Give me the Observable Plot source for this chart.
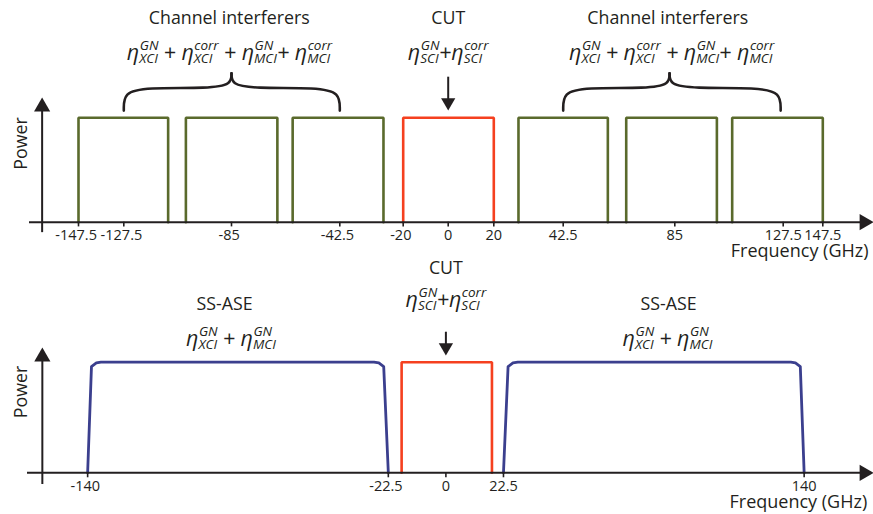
<!DOCTYPE html>
<html><head><meta charset="utf-8">
<script src="https://cdn.jsdelivr.net/npm/d3@7"></script>
<script src="https://cdn.jsdelivr.net/npm/@observablehq/plot@0.6"></script>
<style>
body{margin:0;background:#fff;}
#chart{width:873px;}
#chart svg{display:block;}
#chart text{white-space:pre;}
</style></head><body><div id="chart"></div>
<script>
// ---------- data ----------
const ink = "#231f20", green = "#5a6a2c", red = "#f5401f", blue = "#3b3f8e";
const fam = "'Open Sans', sans-serif";

// top panel: channel grid (GHz)
const topTicks = [-147.5, -127.5, -85, -42.5, -20, 0, 20, 42.5, 85, 127.5, 147.5];
const channelKind = ["interferer", "interferer", "interferer", "CUT", "interferer", "interferer", "interferer"];
const channelLow  = [-147.5, -103, -61, -20, 28, 66.5, 107.5];
const channelHigh = [-110, -67, -27, 20, 59.5, 101.5, 147.5];
const channelPower = [1, 1, 1, 1, 1, 1, 1];

// bottom panel: SS-ASE + CUT (GHz)
const bottomTicks = [-140, -22.5, 0, 22.5, 140];
const aseLeftFreq  = [-140, -138.5, -136.6, -134.8, -28.1, -26.2, -24.3, -22.5];
const aseRightFreq = [22.5, 24.3, 26.2, 28.1, 134.8, 136.6, 138.5, 140];
const asePower     = [0, 0.96, 0.993, 1, 1, 0.993, 0.96, 0];
const cutBottomLow = -17.3, cutBottomHigh = 18, cutBottomPower = 1;

// braces over the interferers [start, cusp, end] (GHz)
const braceSpans = [[-127.5, -85, -42.5], [42.5, 83, 126.5]];
const braceFrac  = [0, 0, 0.2, 0.8, 1, 1];
const braceLevel = [1.069, 1.242, 1.29, 1.281, 1.319, 1.427];

// formulas
const interfererTerms = [["GN", "XCI"], ["corr", "XCI"], ["GN", "MCI"], ["corr", "MCI"]];
const interfererJoins = [" + ", " + ", "+ "];
const cutTerms = [["GN", "SCI"], ["corr", "SCI"]];
const cutJoins = ["+"];
const aseTerms = [["GN", "XCI"], ["GN", "MCI"]];
const aseJoins = [" + "];
const formula = (terms, joins) => terms.map(([p, b], i) => `η[${p},${b}]` + (joins[i] || "")).join("");

const topLabels = [
  {text: "Channel interferers", x: -85.9, y: 1.894},
  {text: "CUT", x: 0, y: 1.894},
  {text: "Channel interferers", x: 82.3, y: 1.894}
];
const topFormulas = [
  {text: formula(interfererTerms, interfererJoins), x: -85.8, y: 1.556},
  {text: formula(cutTerms, cutJoins), x: 0, y: 1.556},
  {text: formula(interfererTerms, interfererJoins), x: 83.8, y: 1.556}
];
const bottomLabels = [
  {text: "CUT", x: 0, y: 1.793},
  {text: "SS-ASE", x: -86.5, y: 1.476},
  {text: "SS-ASE", x: 87, y: 1.476}
];
const bottomFormulas = [
  {text: formula(cutTerms, cutJoins), x: 0, y: 1.498},
  {text: formula(aseTerms, aseJoins), x: -84, y: 1.142},
  {text: formula(aseTerms, aseJoins), x: 86.6, y: 1.142}
];

// ---------- derived tables ----------
const topBoxes = channelLow.flatMap((lo, i) => {
  const hi = channelHigh[i], p = channelPower[i], k = channelKind[i];
  return [{x: lo, y: 0, id: i, k}, {x: lo, y: p, id: i, k}, {x: hi, y: p, id: i, k}, {x: hi, y: 0, id: i, k}];
});
const braceLines = braceSpans.flatMap(([a, m, b], k) => [
  ...braceFrac.map((f, j) => ({x: a + f * (m - a), y: braceLevel[j], id: 2 * k})),
  ...braceFrac.map((f, j) => ({x: b + f * (m - b), y: braceLevel[j], id: 2 * k + 1}))
]);
const aseLines = [
  ...aseLeftFreq.map((x, i) => ({x, y: asePower[i], id: "L"})),
  ...aseRightFreq.map((x, i) => ({x, y: asePower[i], id: "R"}))
];
const cutBottomBox = [
  {x: cutBottomLow, y: 0}, {x: cutBottomLow, y: cutBottomPower},
  {x: cutBottomHigh, y: cutBottomPower}, {x: cutBottomHigh, y: 0}
];

const textCommon = {fill: ink, lineAnchor: "bottom"};
const tickLabelMarks = (ticks, dy) => [
  Plot.text(ticks.filter(d => d < 0), {x: d => d, y: 0, text: d => String(d), dy, dx: -2.4, fontSize: 14.5, ...textCommon}),
  Plot.text(ticks.filter(d => d >= 0), {x: d => d, y: 0, text: d => String(d), dy, fontSize: 14.5, ...textCommon})
];

// ---------- top panel ----------
const topPlot = Plot.plot({
  width: 873, height: 260, margin: 0,
  style: {fontFamily: fam, color: ink, background: "#fff", overflow: "visible"},
  x: {type: "linear", axis: null,
      domain: [-170, ...topTicks, 170],
      range: [29, 78, 123.3, 231, 339.3, 402.7, 447.7, 493.3, 562.7, 674.3, 782.7, 822.3, 873]},
  y: {domain: [0, 1], range: [221.7, 117.3], axis: null},
  marks: [
    Plot.line(topBoxes, {x: "x", y: "y", z: "id", stroke: d => d.k === "CUT" ? red : green, strokeWidth: 2.6, strokeLinejoin: "miter"}),
    Plot.ruleY([0], {x1: -170, x2: 166, stroke: ink, strokeWidth: 2}),
    Plot.ruleX([-164.2], {y1: -0.1, y2: 1.11, stroke: ink, strokeWidth: 2}),
    Plot.dot([{x: 165.9, y: 0, r: 90}, {x: -164.2, y: 1.105, r: 0}], {x: "x", y: "y", rotate: "r", symbol: "triangle", r: 6, fill: ink, stroke: null}),
    Plot.ruleX(topTicks, {y1: 0, y2: -0.045, stroke: ink, strokeWidth: 1.6}),
    ...tickLabelMarks(topTicks, 17.8),
    Plot.line(braceLines, {x: "x", y: "y", z: "id", curve: "basis", stroke: ink, strokeWidth: 2.6}),
    Plot.ruleX([0], {y1: 1.389, y2: 1.15, stroke: ink, strokeWidth: 2}),
    Plot.dot([0], {x: d => d, y: 1.148, rotate: 180, symbol: "triangle", r: 5.3, fill: ink, stroke: null}),
    Plot.text(topLabels, {x: "x", y: "y", text: "text", fontSize: 17.8, ...textCommon}),
    Plot.text(topFormulas, {x: "x", y: "y", text: "text", fontSize: 21.5, fontStyle: "italic", ...textCommon}),
    Plot.text(["Power"], {frameAnchor: "left", textAnchor: "middle", lineAnchor: "middle", dx: 21, y: 0.754, rotate: -90, fontSize: 17.8, fill: ink}),
    Plot.text(["Frequency (GHz)"], {frameAnchor: "bottom-right", textAnchor: "end", lineAnchor: "bottom", dx: -5, dy: -3.3, fontSize: 18, fill: ink})
  ]
});

// ---------- bottom panel ----------
const bottomPlot = Plot.plot({
  width: 873, height: 254, margin: 0,
  style: {fontFamily: fam, color: ink, background: "#fff", overflow: "visible"},
  x: {domain: [-163.5, 167.1], range: [27, 873], axis: null},
  y: {domain: [0, 1], range: [212.3, 101.7], axis: null},
  marks: [
    Plot.line(aseLines, {x: "x", y: "y", z: "id", stroke: blue, strokeWidth: 2.8}),
    Plot.line(cutBottomBox, {x: "x", y: "y", stroke: red, strokeWidth: 2.6, strokeLinejoin: "miter"}),
    Plot.ruleY([0], {x1: -163.5, x2: 163.5, stroke: ink, strokeWidth: 2}),
    Plot.ruleX([-157.7], {y1: -0.106, y2: 1.05, stroke: ink, strokeWidth: 2}),
    Plot.dot([{x: 163.5, y: 0, r: 90}, {x: -157.7, y: 1.049, r: 0}], {x: "x", y: "y", rotate: "r", symbol: "triangle", r: 6, fill: ink, stroke: null}),
    Plot.ruleX(bottomTicks, {y1: 0, y2: -0.045, stroke: ink, strokeWidth: 1.6}),
    ...tickLabelMarks(bottomTicks, 17.9),
    Plot.ruleX([0], {y1: 1.271, y2: 1.14, stroke: ink, strokeWidth: 2}),
    Plot.dot([0], {x: d => d, y: 1.135, rotate: 180, symbol: "triangle", r: 5.3, fill: ink, stroke: null}),
    Plot.text(bottomLabels, {x: "x", y: "y", text: "text", fontSize: 17.8, ...textCommon}),
    Plot.text(bottomFormulas, {x: "x", y: "y", text: "text", fontSize: 21.5, fontStyle: "italic", ...textCommon}),
    Plot.text(["Power"], {frameAnchor: "left", textAnchor: "middle", lineAnchor: "middle", dx: 21, y: 0.731, rotate: -90, fontSize: 17.8, fill: ink}),
    Plot.text(["Frequency (GHz)"], {frameAnchor: "bottom-right", textAnchor: "end", lineAnchor: "bottom", dx: -6.3, dy: -7, fontSize: 18, fill: ink})
  ]
});

const host = document.getElementById("chart");
host.appendChild(topPlot);
host.appendChild(bottomPlot);

// ---------- stacked super/subscripts ----------
const scriptSize = 13.5, supShift = -10, subShift = 3;
function richFormulas(svg) {
  const ctx = document.createElement("canvas").getContext("2d");
  ctx.font = `italic ${scriptSize}px ${fam}`;
  const NS = "http://www.w3.org/2000/svg";
  svg.querySelectorAll("text").forEach(t => {
    const s = t.textContent;
    if (!s.includes("η[")) return;
    t.textContent = "";
    let cur = 0, pendingDx = 0;
    const add = (txt, attrs) => {
      const e = document.createElementNS(NS, "tspan");
      for (const k in attrs) e.setAttribute(k, attrs[k]);
      e.textContent = txt;
      t.appendChild(e);
    };
    for (const part of s.split(/(η\[[^\]]+\])/)) {
      if (!part) continue;
      const m = part.match(/^η\[([^,]+),([^\]]+)\]$/);
      if (m) {
        add("η", {dx: pendingDx, dy: -cur}); cur = 0;
        const wSup = ctx.measureText(m[1]).width, wSub = ctx.measureText(m[2]).width;
        add(m[1], {"font-size": scriptSize, dx: 0.5, dy: supShift - cur}); cur = supShift;
        add(m[2], {"font-size": scriptSize, dx: -wSup - 0.5, dy: subShift - cur}); cur = subShift;
        pendingDx = Math.max(wSup, wSub) - wSub;
      } else {
        add(part, {dx: pendingDx, dy: -cur}); cur = 0; pendingDx = 0;
      }
    }
  });
}
richFormulas(topPlot);
richFormulas(bottomPlot);
</script></body></html>
